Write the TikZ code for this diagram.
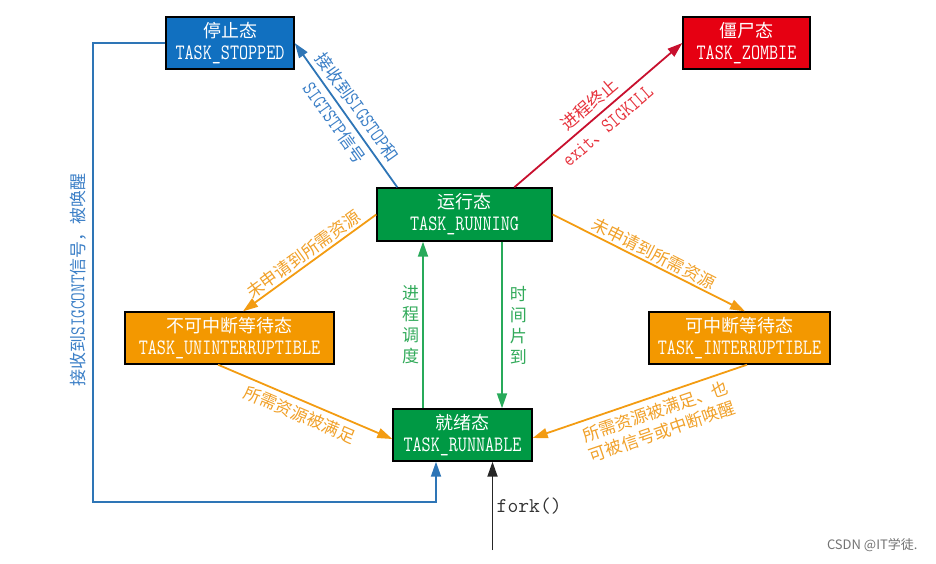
\documentclass[tikz,border=0pt]{standalone}
\usepackage{fontspec}
\setmainfont{Liberation Serif}
\newfontfamily\cjk{Noto Sans CJK SC}
\newfontfamily\lat{Latin Modern Mono}[FakeStretch=0.8]
\newfontfamily\latw{Latin Modern Mono}
\usetikzlibrary{arrows.meta,calc}
\newcommand\lan[1]{{\lat\fontsize{22}{22}\selectfont #1}}
\newcommand\lal[1]{{\lat\fontsize{21}{21}\selectfont #1}}
\definecolor{sblue}{RGB}{17,112,192}
\definecolor{lblue}{RGB}{46,117,182}
\definecolor{tblue}{RGB}{58,126,198}
\definecolor{zred}{RGB}{230,0,18}
\definecolor{lred}{RGB}{200,16,46}
\definecolor{tred}{RGB}{230,50,60}
\definecolor{sgreen}{RGB}{0,153,68}
\definecolor{lgreen}{RGB}{40,170,90}
\definecolor{tgreen}{RGB}{50,170,90}
\definecolor{sorange}{RGB}{243,152,0}
\definecolor{lorange}{RGB}{243,156,18}
\definecolor{torange}{RGB}{240,160,40}
\begin{document}
\begin{tikzpicture}[x=1pt,y=-1pt,
  state/.style={draw=black, line width=1.4pt, inner sep=0pt, align=center, text=white,
    minimum height=52pt, font=\cjk\fontsize{18}{22}\selectfont},
  conn/.style={line width=1.8pt, -{Triangle[length=15pt,width=10pt]}},
  lbl/.style={font=\cjk\fontsize{17}{21}\selectfont, align=center, inner sep=2pt}]
\useasboundingbox (0,0) rectangle (936,563);
\node[state, fill=sblue, minimum width=128pt] (stopped) at (230,43) {停止态\\\lan{TASK\_STOPPED}};
\node[state, fill=zred, minimum width=127pt] (zombie) at (746.5,43) {僵尸态\\\lan{TASK\_ZOMBIE}};
\node[state, fill=sgreen, minimum width=175pt, minimum height=53pt] (running) at (464.5,214.5) {运行态\\\lan{TASK\_RUNNING}};
\node[state, fill=sorange, minimum width=209pt] (unint) at (229.5,338) {不可中断等待态\\\lan{TASK\_UNINTERRUPTIBLE}};
\node[state, fill=sorange, minimum width=181pt] (int) at (739.5,338) {可中断等待态\\\lan{TASK\_INTERRUPTIBLE}};
\node[state, fill=sgreen, minimum width=139pt] (runnable) at (462.5,435) {就绪态\\\lan{TASK\_RUNNABLE}};

\draw[conn, lblue] ([xshift=21pt]running.north west) -- (stopped.east)
  node[lbl, text=tblue, midway, sloped] {接收到\lal{SIGSTOP}和\\[7pt]\lal{SIGTSTP}信号};
\draw[conn, lred] ([xshift=138pt]running.north west) -- (zombie.west)
  node[lbl, text=tred, midway, sloped] {进程终止\\[7pt]\lal{exit}、\lal{SIGKILL}};
\draw[conn, lorange] (running.west) -- ([xshift=13.5pt]unint.north)
  node[lbl, text=torange, midway, sloped, above] {未申请到所需资源};
\draw[conn, lorange] ([xshift=-11.5pt]unint.south) -- ([yshift=-4pt]runnable.west)
  node[lbl, text=torange, midway, sloped, below=3pt] {所需资源被满足};
\draw[conn, lorange] (running.east) -- ([xshift=5.5pt]int.north)
  node[lbl, text=torange, midway, sloped, above] {未申请到所需资源};
\draw[conn, lorange] ([xshift=7.5pt]int.south) -- ([yshift=-3pt]runnable.east)
  node[lbl, text=torange, pos=0.45, sloped, below=4pt] {所需资源被满足、也\\可被信号或中断唤醒};
\draw[conn, lgreen] ([xshift=-39.5pt]runnable.north) -- ([xshift=-39.5pt]runnable.north |- running.south)
  node[lbl, text=tgreen, midway, left, xshift=-1pt] {进\\程\\调\\度};
\draw[conn, lgreen] ([xshift=39.5pt]runnable.north |- running.south) -- ([xshift=39.5pt]runnable.north)
  node[lbl, text=tgreen, midway, right, xshift=5pt] {时\\间\\片\\到};
\coordinate (cornerA) at (93,502);
\draw[conn, lblue] (stopped.west) -| node[lbl, text=tblue, pos=0.758, rotate=90, anchor=south, yshift=4pt] {接收到\lal{SIGCONT}信号，被唤醒} (cornerA) -| ([xshift=-26.5pt]runnable.south);
\coordinate (forkstart) at (492.5,550);
\draw[conn, black!85] (forkstart) -- (forkstart |- runnable.south)
  node[midway, right, font=\latw\fontsize{21}{22}\selectfont, text=black!80] {fork()};
\node[font=\cjk\fontsize{13}{15}\selectfont, text=black!55, anchor=east] (wm) at (921,545) {CSDN @IT学徒.};
\end{tikzpicture}
\end{document}
